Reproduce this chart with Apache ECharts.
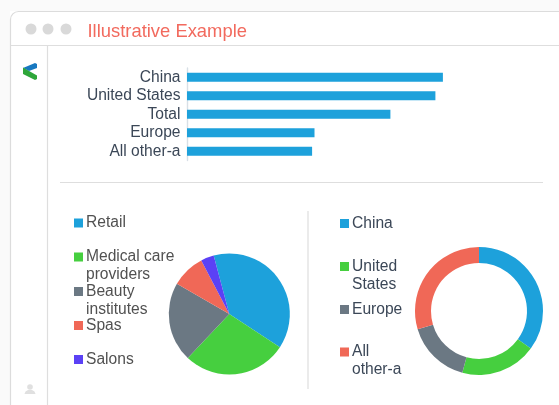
<!DOCTYPE html>
<html><head><meta charset="utf-8">
<style>html,body{margin:0;padding:0;background:#fff}#c{width:559px;height:405px}</style>
<script src="https://cdn.jsdelivr.net/npm/echarts@6/dist/echarts.min.js"></script>
</head><body><div id="c"></div>
<script>
const titleText = 'Illustrative Example';
const barCategories = ['China','United States','Total','Europe','All other-a'];
const barValues = [85.3,82.8,67.8,42.5,41.7];
const pieNames = ['Retail','Medical care\nproviders','Beauty\ninstitutes','Spas','Salons'];
const pieValues = [38.4,27.8,21.3,9.0,3.5];
const donutNames = ['China','United\nStates','Europe','All\nother-a'];
const donutValues = [35.0,19.2,16.2,29.6];
const colors = ['#1da1db','#46cf3f','#6b7883','#f06857','#5b41f5'];
const pieLegendY = [222,256,290.5,324.5,358.5];
const donutLegendY = [222.5,265.5,308.5,351];
const font = '"Liberation Sans", Arial, sans-serif';

const chart = echarts.init(document.getElementById('c'), null, {renderer:'canvas'});
// For two-line names the marker sits beside the first line, so its box is taller than the visible square.
const topSquare = 'path://M0 0H9V9H0Z M0 26.99H.01V27H0Z';
const legend = (name,x,y,color) => {
  const two = name.includes('\n');
  return {
    data:[name], left:x, top:y-8, orient:'vertical', padding:0,
    itemWidth:9, itemHeight: two ? 27 : 9, icon: two ? topSquare : 'rect', selectedMode:false,
    textStyle:{fontFamily:font,fontSize:15.6,color,lineHeight:18,padding:[0,0,0,-2]}
  };
};
const line = (x1,y1,x2,y2,c='#dedede',w=1.2)=>({type:'line',silent:true,shape:{x1,y1,x2,y2},style:{stroke:c,lineWidth:w}});
chart.setOption({
  animation:false,
  backgroundColor:'#fff',
  color:colors,
  title:{text:titleText,left:87.5,top:22.5,padding:0,textStyle:{fontFamily:font,fontSize:18.4,fontWeight:'normal',color:'#f26a5e'}},
  grid:{left:187,top:68,width:300,height:92.5,containLabel:false},
  xAxis:{type:'value',min:0,max:100,show:false},
  yAxis:{type:'category',inverse:true,data:barCategories,offset:1.5,
    axisLine:{lineStyle:{color:'#d8dfe6',width:1.4}},axisTick:{show:false},
    axisLabel:{interval:0,fontFamily:font,fontSize:15.6,color:'#3b4757',margin:5}},
  legend:[
    ...pieNames.map((n,i)=>legend(n,74,pieLegendY[i],'#515151')),
    ...donutNames.map((n,i)=>legend(n,340,donutLegendY[i],'#3b4757'))
  ],
  series:[
    {type:'bar',data:barValues,barWidth:9,itemStyle:{color:colors[0]},silent:true},
    {type:'pie',center:[229.3,314],radius:[0,60.5],startAngle:105,silent:true,label:{show:false},labelLine:{show:false},
      itemStyle:{borderWidth:0},
      data:pieNames.map((name,i)=>({name,value:pieValues[i],itemStyle:{color:colors[i]}}))},
    {type:'pie',center:[479,311],radius:[48,64],startAngle:90,silent:true,label:{show:false},labelLine:{show:false},
      data:donutNames.map((name,i)=>({name,value:donutValues[i],itemStyle:{color:colors[i]}}))}
  ],
  graphic:{elements:[
    {type:'rect',z:-10,silent:true,shape:{x:0,y:0,width:559,height:405},style:{fill:'#fff'}},
    {type:'rect',z:-9,silent:true,shape:{x:0,y:0,width:559,height:11},style:{fill:'#fafafa'}},
    {type:'rect',z:-9,silent:true,shape:{x:0,y:0,width:10,height:405},style:{fill:'#fafafa'}},
    {type:'rect',z:-8,silent:true,shape:{x:10.5,y:11.5,width:700,height:600,r:8},style:{fill:'#fff',stroke:'#dcdcdc',lineWidth:1.2}},
    line(11,45.5,559,45.5),
    line(47.5,46,47.5,405),
    line(60,182.5,543,182.5),
    line(308,211,308,389),
    ...[31,48,66].map(cx=>({type:'circle',silent:true,shape:{cx,cy:29,r:5.5},style:{fill:'#d9d9d9'}})),
    {type:'polygon',silent:true,shape:{points:[[23,68],[35,63],[37,64],[37,68],[29,71]]},style:{fill:'#1878c0'}},
    {type:'polygon',silent:true,shape:{points:[[23,67.5],[37,75.5],[37,79],[35,80],[23,74]]},style:{fill:'#2ea63a'}},
    {type:'circle',silent:true,shape:{cx:30,cy:387,r:2.8},style:{fill:'#e0e0e0'}},
    {type:'polygon',silent:true,shape:{points:[[24.5,394],[25.5,391.5],[28,390],[32,390],[34.5,391.5],[35.5,394]]},style:{fill:'#e0e0e0'}}
  ]}
});
</script></body></html>
